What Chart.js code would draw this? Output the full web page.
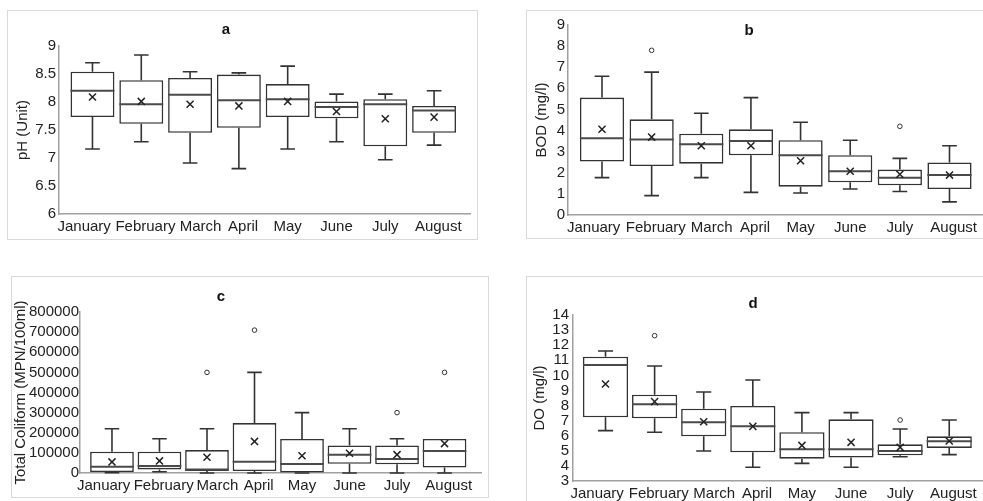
<!DOCTYPE html>
<html lang="en">
<head>
    <meta charset="UTF-8">
    <title>Monthly water quality box plots</title>
    <script src="https://cdn.jsdelivr.net/npm/chart.js"></script>
    <style>
        html, body {
            margin: 0;
            width: 983px;
            height: 501px;
            overflow: hidden;
            background: #fff;
            font-family: "Liberation Sans", Arial, sans-serif;
        }

        body {
            position: relative;
        }

        .panel {
            position: absolute;
            border: 1px solid #d9d9d9;
            box-sizing: border-box;
        }

        .panel canvas {
            position: absolute;
            left: 0;
            top: 0;
        }

        .letter {
            position: absolute;
            font-weight: bold;
            font-size: 15px;
            color: #111;
            transform: translate(-50%, -50%);
        }
    </style>
</head>
<body>
    <div class="panel" style="left:7px;top:10px;width:471px;height:230px"><canvas id="phChart" width="469" height="228"></canvas></div>
    <div class="panel" style="left:526px;top:10px;width:472px;height:229px"><canvas id="bodChart" width="470" height="227"></canvas></div>
    <div class="panel" style="left:11px;top:276px;width:478px;height:222px"><canvas id="tcChart" width="476" height="220"></canvas></div>
    <div class="panel" style="left:526px;top:276px;width:472px;height:230px"><canvas id="doChart" width="470" height="228"></canvas></div>

    <div class="letter" style="left:226px;top:28px">a</div>
    <div class="letter" style="left:749px;top:29px">b</div>
    <div class="letter" style="left:221px;top:295px">c</div>
    <div class="letter" style="left:753px;top:302px">d</div>

    <script>
        const months = ['January', 'February', 'March', 'April', 'May', 'June', 'July', 'August'];

        // pH
        const phTicks  = [6, 6.5, 7, 7.5, 8, 8.5, 9];
        const phLow    = [7.16, 7.29, 6.91, 6.81, 7.16, 7.29, 6.97, 7.23];
        const phQ1     = [7.73, 7.61, 7.45, 7.54, 7.73, 7.71, 7.21, 7.45];
        const phMedian = [8.20, 7.96, 8.13, 8.03, 8.05, 7.91, 7.96, 7.85];
        const phQ3     = [8.54, 8.39, 8.43, 8.49, 8.32, 8.01, 8.05, 7.93];
        const phHigh   = [8.70, 8.84, 8.54, 8.52, 8.64, 8.14, 8.14, 8.20];
        const phMean   = [8.09, 8.01, 7.96, 7.93, 8.01, 7.83, 7.70, 7.73];
        const phOutliers = [];

        // BOD
        const bodTicks  = [0, 1, 2, 3, 4, 5, 6, 7, 8, 9];
        const bodLow    = [1.77, 0.92, 1.77, 1.07, 1.04, 1.23, 1.11, 0.62];
        const bodQ1     = [2.53, 2.32, 2.43, 2.83, 1.34, 1.55, 1.41, 1.23];
        const bodMedian = [3.63, 3.58, 3.35, 3.51, 2.83, 2.07, 1.77, 1.89];
        const bodQ3     = [5.56, 4.53, 3.85, 4.06, 3.54, 2.83, 2.15, 2.49];
        const bodHigh   = [6.57, 6.77, 4.82, 5.56, 4.39, 3.54, 2.68, 3.28];
        const bodMean   = [4.06, 3.69, 3.28, 3.28, 2.57, 2.07, 1.93, 1.89];
        const bodOutliers = [[1, 7.8], [6, 4.2]];

        // Total coliform
        const tcTicks  = [0, 100000, 200000, 300000, 400000, 500000, 600000, 700000, 800000];
        const tcLow    = [1000, 6000, 0, 0, 0, 0, 0, 0];
        const tcQ1     = [5000, 18000, 10000, 10000, 2000, 46000, 43000, 27000];
        const tcMedian = [31000, 35000, 17000, 56000, 45000, 91000, 70000, 109000];
        const tcQ3     = [106000, 106000, 114000, 248000, 169000, 137000, 137000, 169000];
        const tcHigh   = [220000, 170000, 220000, 500000, 300000, 220000, 170000, 169000];
        const tcMean   = [55000, 60000, 78000, 157000, 86000, 98000, 91000, 146000];
        const tcOutliers = [[2, 500000], [3, 710000], [6, 300000], [7, 500000]];

        // DO
        const doTicks  = [3, 4, 5, 6, 7, 8, 9, 10, 11, 12, 13, 14];
        const doLow    = [6.34, 6.23, 4.99, 3.91, 4.17, 3.91, 4.61, 4.75];
        const doQ1     = [7.22, 7.15, 5.96, 4.90, 4.48, 4.55, 4.70, 5.19];
        const doMedian = [10.69, 8.08, 6.89, 6.62, 5.10, 5.10, 4.99, 5.63];
        const doQ3     = [11.24, 8.72, 7.79, 7.97, 6.23, 7.09, 5.43, 5.96];
        const doHigh   = [11.61, 10.62, 8.90, 9.69, 7.53, 7.53, 6.45, 7.04];
        const doMean   = [9.43, 8.26, 6.93, 6.62, 5.36, 5.56, 5.23, 5.65];
        const doOutliers = [[1, 12.63], [6, 7.04]];

        const font = { family: '"Liberation Sans", Arial, sans-serif', size: 15 };
        const lineColor = '#333333';
        const axisColor = '#a0a0a0';

        // the long month names push each other sideways a little, like the original;
        // negative = space after the name, positive = space before it
        const labelShift = [-4, 2, 5, 2, 0, 0, 0, 2];

        function monthLabel(i) {
            const n = labelShift[i] || 0;
            const pad = ' '.repeat(Math.abs(n));
            return n < 0 ? months[i] + pad : pad + months[i];
        }

        // whiskers + median, drawn right after the boxes
        function whiskerPlugin(low, median, high, q1, q3) {
            return {
                id: 'whiskers',
                afterDatasetDraw(chart, args) {
                    if (args.index !== 0) return;
                    const y = chart.scales.y;
                    const ctx = chart.ctx;
                    ctx.save();
                    args.meta.data.forEach((bar, i) => {
                        const { x, width } = bar.getProps(['x', 'width'], true);
                        const cap = width / 6;
                        const yLow = y.getPixelForValue(low[i]);
                        const yHigh = y.getPixelForValue(high[i]);
                        const yQ1 = y.getPixelForValue(q1[i]);
                        const yQ3 = y.getPixelForValue(q3[i]);
                        const yMed = y.getPixelForValue(median[i]);
                        ctx.strokeStyle = lineColor;
                        ctx.lineWidth = 1.6;
                        ctx.beginPath();
                        if (high[i] > q3[i]) {
                            ctx.moveTo(x, yQ3); ctx.lineTo(x, yHigh);
                            ctx.moveTo(x - cap, yHigh); ctx.lineTo(x + cap, yHigh);
                        }
                        if (low[i] < q1[i]) {
                            ctx.moveTo(x, yQ1); ctx.lineTo(x, yLow);
                            ctx.moveTo(x - cap, yLow); ctx.lineTo(x + cap, yLow);
                        }
                        ctx.stroke();
                        ctx.lineWidth = 2;
                        ctx.strokeStyle = '#4a4a4a';
                        ctx.beginPath();
                        ctx.moveTo(x - width / 2, yMed); ctx.lineTo(x + width / 2, yMed);
                        ctx.stroke();
                    });
                    ctx.restore();
                }
            };
        }

        function makeBoxChart(id, s, look) {
            const ctx = document.getElementById(id).getContext('2d');
            return new Chart(ctx, {
                type: 'bar',
                data: {
                    datasets: [{
                        type: 'bar',
                        order: 2,
                        data: months.map((m, i) => ({ x: i, y: [s.q1[i], s.q3[i]] })),
                        backgroundColor: '#ffffff',
                        borderColor: lineColor,
                        borderWidth: 1.6,
                        borderSkipped: false,
                        categoryPercentage: 1,
                        barPercentage: look.barPct
                    }, {
                        type: 'scatter',
                        order: 1,
                        data: s.outliers.map(o => ({ x: o[0], y: o[1] })),
                        pointStyle: 'circle',
                        radius: 2.3,
                        borderWidth: 1,
                        borderColor: lineColor,
                        backgroundColor: '#ffffff'
                    }, {
                        type: 'scatter',
                        order: 0,
                        data: months.map((m, i) => ({ x: i, y: s.mean[i] })),
                        pointStyle: 'crossRot',
                        radius: 5,
                        borderWidth: 1.5,
                        borderColor: '#222'
                    }]
                },
                options: {
                    responsive: false,
                    animation: false,
                    layout: { padding: { left: 0, top: look.padTop, right: look.padRight, bottom: 0 } },
                    plugins: {
                        legend: { display: false },
                        tooltip: { enabled: false }
                    },
                    scales: {
                        x: {
                            type: 'linear',
                            offset: false,
                            min: look.xMin,
                            max: look.xMax,
                            afterBuildTicks: scale => { scale.ticks = months.map((m, i) => ({ value: i })); },
                            afterFit: scale => { scale.height = look.xHeight; },
                            grid: { display: false, drawTicks: false },
                            border: { display: true, color: axisColor, width: 1.5 },
                            ticks: {
                                autoSkip: false,
                                maxRotation: 0,
                                minRotation: 0,
                                padding: 4,
                                color: '#222',
                                font: font,
                                callback: v => monthLabel(v)
                            }
                        },
                        y: {
                            min: s.ticks[0],
                            max: s.ticks[s.ticks.length - 1],
                            afterBuildTicks: scale => { scale.ticks = s.ticks.map(v => ({ value: v })); },
                            afterFit: scale => { scale.width = look.yWidth; },
                            grid: { display: false, drawTicks: false },
                            border: { display: true, color: axisColor, width: 1.5 },
                            ticks: {
                                autoSkip: false,
                                padding: look.tickPad,
                                color: '#222',
                                font: font,
                                callback: v => String(v)
                            },
                            title: {
                                display: true,
                                text: look.yTitle,
                                color: '#222',
                                font: font,
                                padding: { top: look.titlePad, bottom: 0 }
                            }
                        }
                    }
                },
                plugins: [whiskerPlugin(s.low, s.median, s.high, s.q1, s.q3)]
            });
        }

        makeBoxChart('phChart',
            { ticks: phTicks, low: phLow, q1: phQ1, median: phMedian, q3: phQ3, high: phHigh, mean: phMean, outliers: phOutliers },
            { yTitle: 'pH (Unit)', xMin: -0.686, xMax: 7.736, barPct: 0.9,
              yWidth: 51, padTop: 35, padRight: 7, xHeight: 25, tickPad: 3, titlePad: 6 });

        makeBoxChart('bodChart',
            { ticks: bodTicks, low: bodLow, q1: bodQ1, median: bodMedian, q3: bodQ3, high: bodHigh, mean: bodMean, outliers: bodOutliers },
            { yTitle: 'BOD (mg/l)', xMin: -0.685, xMax: 7.816, barPct: 0.89,
              yWidth: 41, padTop: 14, padRight: 7, xHeight: 23, tickPad: 3, titlePad: 6 });

        makeBoxChart('tcChart',
            { ticks: tcTicks, low: tcLow, q1: tcQ1, median: tcMedian, q3: tcQ3, high: tcHigh, mean: tcMean, outliers: tcOutliers },
            { yTitle: 'Total Coliform (MPN/100ml)', xMin: -0.673, xMax: 7.778, barPct: 0.92,
              yWidth: 68, padTop: 35, padRight: 6, xHeight: 24, tickPad: 1, titlePad: 0 });

        makeBoxChart('doChart',
            { ticks: doTicks, low: doLow, q1: doQ1, median: doMedian, q3: doQ3, high: doHigh, mean: doMean, outliers: doOutliers },
            { yTitle: 'DO (mg/l)', xMin: -0.662, xMax: 7.83, barPct: 0.92,
              yWidth: 46, padTop: 38, padRight: 7, xHeight: 24, tickPad: 4, titlePad: 4 });
    </script>
</body>
</html>
